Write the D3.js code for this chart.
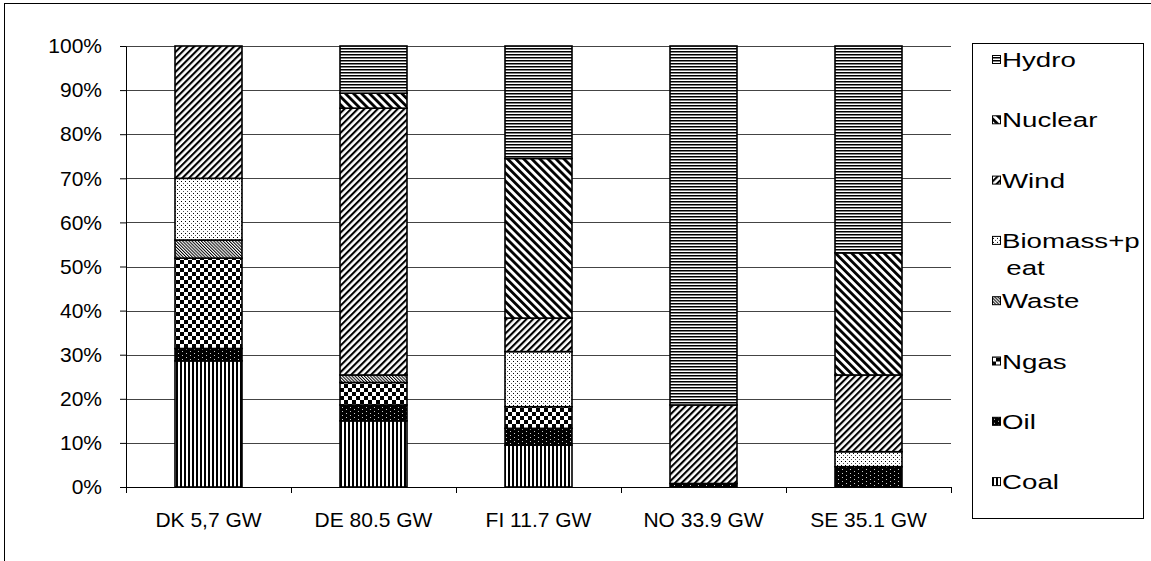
<!DOCTYPE html>
<html>
<head>
<meta charset="utf-8">
<script src="https://cdn.jsdelivr.net/npm/d3@7"></script>
<style>
  body { margin: 0; background: #fff; }
  svg { display: block; font-family: "Liberation Sans", Arial, sans-serif; }
</style>
</head>
<body>
<svg id="chart" width="1151" height="561"></svg>
<script>
// ---- data (percent of installed capacity) ----
const categories = ["DK 5,7 GW", "DE 80.5 GW", "FI 11.7 GW", "NO 33.9 GW", "SE 35.1 GW"];
const seriesNames = ["Coal", "Oil", "Ngas", "Waste", "Biomass+peat", "Wind", "Nuclear", "Hydro"];
const coal    = [28.6, 15.0,  9.5,  0.0,  0.0];
const oil     = [ 2.8,  3.6,  3.8,  0.8,  4.6];
const ngas    = [20.5,  5.1,  4.9,  0.0,  0.0];
const waste   = [ 4.1,  1.7,  0.0,  0.0,  0.0];
const biomass = [14.0,  0.0, 12.5,  0.0,  3.4];
const wind    = [30.0, 60.5,  7.6, 17.8, 17.4];
const nuclear = [ 0.0,  3.4, 36.2,  0.0, 27.7];
const hydro   = [ 0.0, 10.7, 25.5, 81.4, 46.9];
const yTicks = [0, 0.1, 0.2, 0.3, 0.4, 0.5, 0.6, 0.7, 0.8, 0.9, 1.0];
const legendLabels = {"Biomass+peat": ["Biomass+p", "eat"]};

const seriesValues = [coal, oil, ngas, waste, biomass, wind, nuclear, hydro];
const rows = categories.map((c, i) => {
  const r = {cat: c};
  seriesNames.forEach((s, k) => r[s] = seriesValues[k][i] / 100);
  return r;
});

const svg = d3.select("#chart");
const L = 126, R = 951, T = 46, B = 487;

// ---- patterns ----
const defs = svg.append("defs");
function pat(id, w, h, transform) {
  const p = defs.append("pattern").attr("id", id).attr("patternUnits", "userSpaceOnUse")
    .attr("width", w).attr("height", h);
  if (transform) p.attr("patternTransform", transform);
  p.append("rect").attr("width", w).attr("height", h).attr("fill", "#fff");
  return p;
}
// Hydro: horizontal lines
pat("p-Hydro", 4, 3).append("rect").attr("y", 0).attr("width", 4).attr("height", 1.5).attr("fill", "#000");
// Nuclear: wide "\" stripes
pat("p-Nuclear", 5.7, 10, "rotate(-45)").append("rect").attr("width", 2.8).attr("height", 10).attr("fill", "#000");
// Wind: "/" stripes
pat("p-Wind", 4.7, 10, "rotate(45)").append("rect").attr("width", 2.1).attr("height", 10).attr("fill", "#000");
// Biomass: sparse dots
{
  const p = pat("p-Biomass+peat", 4, 4);
  p.append("rect").attr("x", 1).attr("y", 1).attr("width", 1).attr("height", 1).attr("fill", "#000");
  p.append("rect").attr("x", 3).attr("y", 3).attr("width", 1).attr("height", 1).attr("fill", "#555");
}
// Waste: fine "\" stripes
pat("p-Waste", 2.2, 10, "rotate(-45)").append("rect").attr("width", 1).attr("height", 10).attr("fill", "#000");
// Ngas: checkerboard
{
  const p = pat("p-Ngas", 8, 8);
  p.append("rect").attr("width", 4).attr("height", 4).attr("fill", "#000");
  p.append("rect").attr("x", 4).attr("y", 4).attr("width", 4).attr("height", 4).attr("fill", "#000");
}
// Oil: black with white dots
{
  const p = pat("p-Oil", 8, 4);
  p.append("rect").attr("width", 8).attr("height", 4).attr("fill", "#000");
  p.append("rect").attr("x", 2).attr("y", 1).attr("width", 1).attr("height", 1).attr("fill", "#ccc");
  p.append("rect").attr("x", 6).attr("y", 3).attr("width", 1).attr("height", 1).attr("fill", "#ccc");
}
// Coal: vertical stripes
pat("p-Coal", 4, 4).append("rect").attr("width", 2).attr("height", 4).attr("fill", "#000");

const fillOf = s => `url(#p-${s})`;

// ---- outer border ----
svg.append("rect").attr("x", 4.5).attr("y", 3.5).attr("width", 1160).attr("height", 570)
  .attr("fill", "none").attr("stroke", "#000").attr("stroke-width", 1);

// ---- scales ----
const x = d3.scaleBand().domain(categories).range([L, R]).paddingInner(0.594).paddingOuter(0.297);
const y = d3.scaleLinear().domain([0, 1]).range([B, T]);

// gridlines
svg.append("g").selectAll("line").data(yTicks.filter(d => d > 0)).join("line")
  .attr("x1", L).attr("x2", R)
  .attr("y1", d => Math.round(y(d)) + 0.5).attr("y2", d => Math.round(y(d)) + 0.5)
  .attr("stroke", "#444").attr("stroke-width", 1.2);

// ---- bars ----
const stack = d3.stack().keys(seriesNames)(rows);
svg.append("g").selectAll("g").data(stack).join("g")
  .attr("fill", d => fillOf(d.key))
  .selectAll("rect").data(d => d.filter(s => s[1] - s[0] > 0)).join("rect")
  .attr("x", d => x(d.data.cat))
  .attr("width", x.bandwidth())
  .attr("y", d => y(d[1]))
  .attr("height", d => y(d[0]) - y(d[1]))
  .attr("stroke", "#000").attr("stroke-width", 1.6);

// ---- axes ----
const yAxis = svg.append("g").attr("transform", `translate(${L},0)`)
  .call(d3.axisLeft(y).tickValues(yTicks).tickFormat(d3.format(".0%")).tickSizeInner(6).tickSizeOuter(0).tickPadding(18));
yAxis.select(".domain").attr("stroke", "#000");
yAxis.selectAll("line").attr("stroke", "#000");
yAxis.selectAll("text").attr("font-size", 21).attr("fill", "#000").attr("font-family", "Liberation Sans, Arial, sans-serif");

const xAxis = svg.append("g").attr("transform", `translate(0,${B})`)
  .call(d3.axisBottom(x).tickSize(0).tickPadding(25));
xAxis.select(".domain").attr("stroke", "#000");
xAxis.selectAll("text").attr("font-size", 21).attr("fill", "#000").attr("font-family", "Liberation Sans, Arial, sans-serif");
// category boundary tick marks
const gap = x.step() * x.paddingInner();
const boundaries = [L].concat(categories.map(c => x(c) + x.bandwidth() + gap / 2));
svg.append("g").selectAll("line").data(boundaries).join("line")
  .attr("x1", d => Math.round(d) + 0.5).attr("x2", d => Math.round(d) + 0.5)
  .attr("y1", B).attr("y2", B + 6).attr("stroke", "#000");

// ---- legend ----
const lg = svg.append("g");
lg.append("rect").attr("x", 972.5).attr("y", 43.5).attr("width", 171).attr("height", 475)
  .attr("fill", "#fff").attr("stroke", "#000");
const legendOrder = seriesNames.slice().reverse();
const item = lg.selectAll("g.item").data(legendOrder).join("g")
  .attr("class", "item")
  .attr("transform", (d, i) => `translate(992,${60 + i * 60.3})`);
item.append("rect").attr("x", 0.5).attr("y", -4.5).attr("width", 8).attr("height", 8)
  .attr("fill", d => fillOf(d)).attr("stroke", "#000");
item.each(function(d) {
  const lines = legendLabels[d] || [d];
  const g = d3.select(this).append("g").attr("transform", "translate(10,0) scale(1.42,1)");
  lines.forEach((t, j) => {
    g.append("text").attr("x", j ? 3 : 0).attr("y", j * 27).attr("dy", "0.36em")
      .attr("font-size", 19.5).attr("fill", "#000").text(t);
  });
});
</script>
</body>
</html>
